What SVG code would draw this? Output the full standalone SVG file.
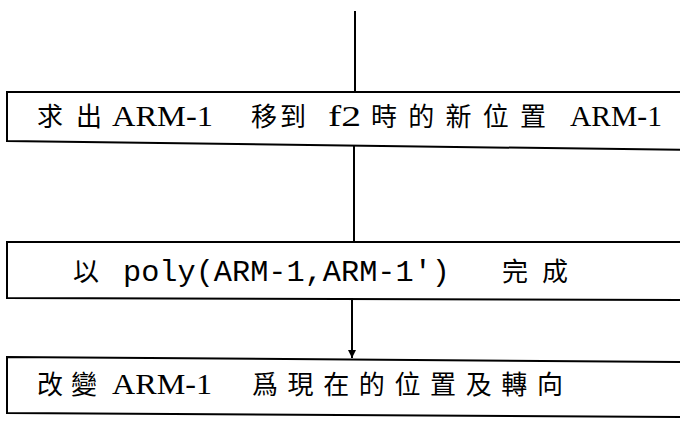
<svg xmlns="http://www.w3.org/2000/svg" width="680" height="421" viewBox="0 0 680 421">
<defs>
<style>
.box{fill:none;stroke:#000;stroke-width:2}
.ln{fill:none;stroke:#000;stroke-width:2}
.cj{font-family:"Noto Sans CJK TC","Noto Sans CJK SC",sans-serif;font-size:26px;fill:#000}
.la{font-family:"Liberation Mono","DejaVu Sans Mono",monospace;font-size:30px;fill:#000}
.ls{font-family:"Liberation Serif","DejaVu Serif",serif;font-size:30px;fill:#000}
</style>
<marker id="ah" viewBox="0 0 10 10" refX="10" refY="5" markerWidth="16" markerHeight="8" markerUnits="userSpaceOnUse" orient="auto">
<path d="M0,0 L10,5 L0,10 Z" fill="#000"/>
</marker>
</defs>
<rect width="680" height="421" fill="#fff"/>
<g id="connectors">
<line class="ln" x1="355" y1="11" x2="355" y2="92"/>
<line class="ln" x1="354" y1="146" x2="354" y2="242"/>
<line class="ln" x1="352" y1="298" x2="352" y2="358" marker-end="url(#ah)"/>
</g>
<g id="node1">
<polyline class="box" points="690,92 7,92 7,141 690,150"/>
<text class="cj" x="37" y="126" textLength="65" lengthAdjust="spacing">求出</text>
<text class="ls" x="112" y="126" textLength="101" lengthAdjust="spacingAndGlyphs">ARM-1</text>
<text class="cj" x="251" y="126" textLength="55" lengthAdjust="spacing">移到</text>
<text class="ls" x="328" y="126" textLength="33" lengthAdjust="spacingAndGlyphs">f2</text>
<text class="cj" x="371" y="126" textLength="175" lengthAdjust="spacing">時的新位置</text>
<text class="ls" x="570" y="126" textLength="92" lengthAdjust="spacingAndGlyphs">ARM-1</text>
</g>
<g id="node2">
<polyline class="box" points="690,242 7,242 7,298 690,300"/>
<text class="cj" x="73" y="281">以</text>
<text class="la" x="123" y="281" textLength="327" lengthAdjust="spacingAndGlyphs">poly(ARM-1,ARM-1')</text>
<text class="cj" x="502" y="281" textLength="66" lengthAdjust="spacing">完成</text>
</g>
<g id="node3">
<polyline class="box" points="690,362 7,357 7,413 690,417"/>
<text class="cj" x="37" y="394" textLength="60" lengthAdjust="spacing">改變</text>
<text class="ls" x="112" y="394" textLength="100" lengthAdjust="spacingAndGlyphs">ARM-1</text>
<text class="cj" x="252" y="394" textLength="311" lengthAdjust="spacing">爲現在的位置及轉向</text>
</g>
</svg>
